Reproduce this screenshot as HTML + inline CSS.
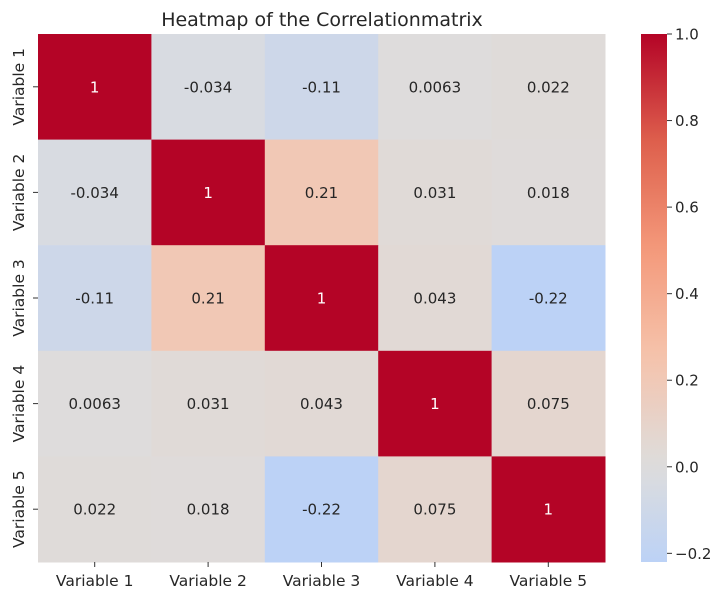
<!DOCTYPE html>
<html><head><meta charset="utf-8"><style>
body{margin:0;background:#fff;width:728px;height:592px;overflow:hidden}
svg text{font-family:"DejaVu Sans","Liberation Sans",sans-serif}
</style></head><body>
<svg id="chart" width="728" height="592">
<defs><linearGradient id="cbg" x1="0" y1="1" x2="0" y2="0"></linearGradient></defs>
<text x="322" y="26" text-anchor="middle" font-size="19" fill="#262626">Heatmap of the Correlationmatrix</text>
<g id="cells"></g><g id="xt"></g><g id="yt"></g><g id="cb"></g>
</svg>
<script>
const labels=["Variable 1","Variable 2","Variable 3","Variable 4","Variable 5"];
const row1=[1,-0.034,-0.11,0.0063,0.022];
const row2=[-0.034,1,0.21,0.031,0.018];
const row3=[-0.11,0.21,1,0.043,-0.22];
const row4=[0.0063,0.031,0.043,1,0.075];
const row5=[0.022,0.018,-0.22,0.075,1];
const cbTicks=[-0.2,0,0.2,0.4,0.6,0.8,1.0];
const matrix=[row1,row2,row3,row4,row5];
const NS="http://www.w3.org/2000/svg";
const L=38,R=605,T=34,B=562,n=labels.length,cw=(R-L)/n,ch=(B-T)/n;
const stops=[[59,76,192],[98,130,234],[141,176,254],[184,208,249],[221,221,221],[245,196,173],[244,154,123],[222,96,77],[180,4,38]];
function cmap(t){t=Math.max(0,Math.min(1,t));const f=t*8,i=Math.min(7,Math.floor(f)),u=f-i;const a=stops[i],b=stops[i+1];return `rgb(${a.map((v,k)=>Math.round(v+(b[k]-v)*u)).join(",")})`;}
function col(v){return cmap(0.5+v/2);}
function mk(tag,at,parent){const e=document.createElementNS(NS,tag);for(const k in at)e.setAttribute(k,at[k]);parent.appendChild(e);return e;}
const cells=document.getElementById('cells');
matrix.forEach((row,r)=>row.forEach((v,c)=>{
 const rc=mk('rect',{x:L+c*cw,y:T+r*ch,width:cw+0.5,height:ch+0.5,fill:col(v)},cells);
 
 
 const t=mk('text',{x:L+(c+.5)*cw,y:T+(r+.5)*ch+5.5,'text-anchor':'middle','font-size':15,fill:v>0.6?'#fff':'#262626'},cells);
 t.textContent=String(v);
 
 
}));
const xt=document.getElementById('xt'),yt=document.getElementById('yt');
labels.forEach((s,i)=>{
 const x=L+(i+.5)*cw;
 mk('line',{x1:x,x2:x,y1:B,y2:B+5,stroke:'#333'},xt);
 const t=mk('text',{x:x,y:B+24,'text-anchor':'middle','font-size':15.5,fill:'#262626'},xt);t.textContent=s;
 
 
 const y=T+(i+.5)*ch;
 mk('line',{x1:L-5,x2:L,y1:y,y2:y,stroke:'#333'},yt);
 const u=mk('text',{x:0,y:0,'text-anchor':'middle','font-size':15.5,fill:'#262626',transform:`translate(24,${y}) rotate(-90)`},yt);u.textContent=s;
 
 
});
const vmin=-0.22,vmax=1,CX=641,CW=26;
const g=document.getElementById('cbg');
for(let i=0;i<=20;i++){const v=vmin+(vmax-vmin)*i/20;mk('stop',{offset:i/20,'stop-color':col(v)},g);}
const cb=document.getElementById('cb');
const bar=mk('rect',{x:CX,y:T,width:CW,height:B-T,fill:'url(#cbg)'},cb);


const cy=v=>B-(v-vmin)/(vmax-vmin)*(B-T);
cbTicks.forEach(v=>{
 const y=cy(v);
 mk('line',{x1:CX+CW,x2:CX+CW+5,y1:y,y2:y,stroke:'#333'},cb);
 const t=mk('text',{x:CX+CW+8,y:y+5.5,'font-size':15,fill:'#262626'},cb);
 t.textContent=(v<0?'\u2212':'')+Math.abs(v).toFixed(1);
 
 
});
</script>
</body></html>
